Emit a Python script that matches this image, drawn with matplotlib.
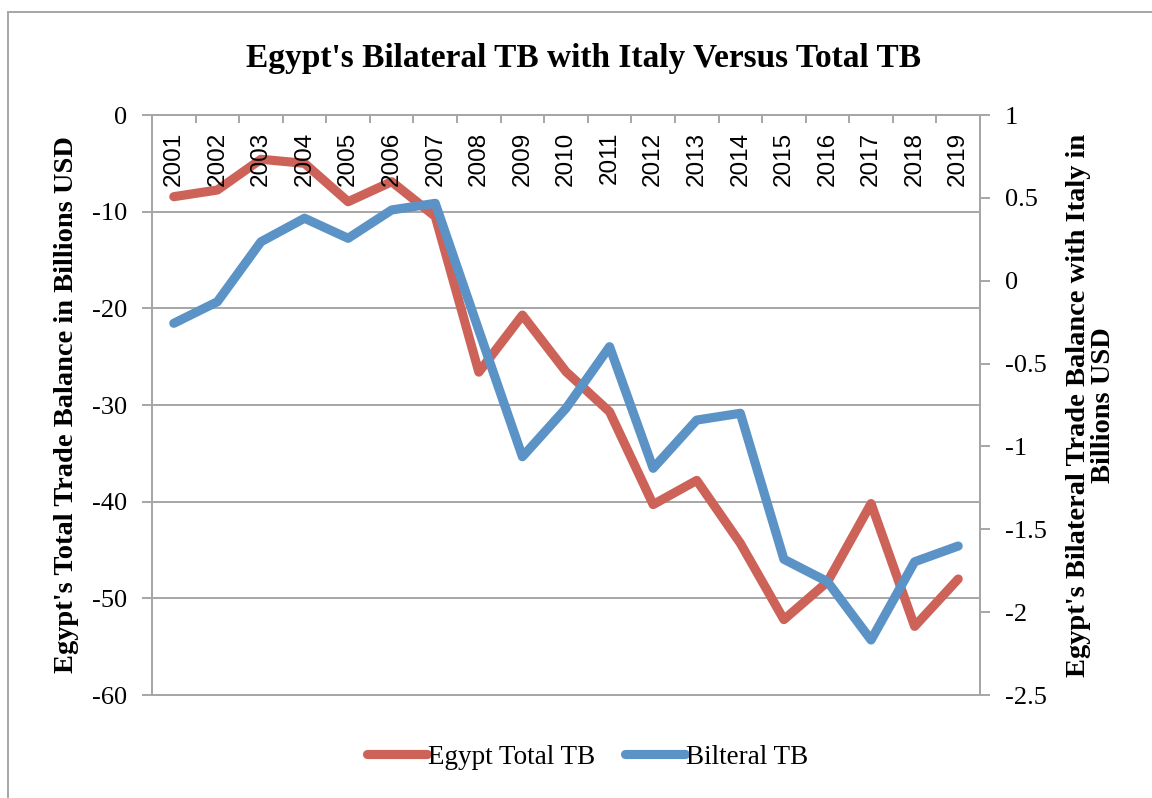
import matplotlib
matplotlib.use('Agg')
import matplotlib.pyplot as plt
from matplotlib.patches import Rectangle
from matplotlib.ticker import FuncFormatter

plt.rcParams['axes.unicode_minus'] = False

# data
years = ['2001', '2002', '2003', '2004', '2005', '2006', '2007', '2008', '2009', '2010',
         '2011', '2012', '2013', '2014', '2015', '2016', '2017', '2018', '2019']
total_tb = [-8.45, -7.76, -4.58, -5.0, -8.97, -6.9, -10.5, -26.6, -20.7, -26.55,
            -30.7, -40.3, -37.8, -44.3, -52.2, -48.3, -40.2, -52.9, -48.0]
bilateral_tb = [-0.257, -0.127, 0.235, 0.377, 0.256, 0.427, 0.467, -0.30, -1.062, -0.770,
                -0.398, -1.132, -0.841, -0.800, -1.681, -1.816, -2.168, -1.696, -1.601]

left_ticks = [0, -10, -20, -30, -40, -50, -60]
right_ticks = [1, 0.5, 0, -0.5, -1, -1.5, -2, -2.5]

RED = '#CD6259'
BLUE = '#5B93C7'
GRID = '#A6A6A6'
SERIF = 'Liberation Serif'
SANS = 'Liberation Sans'

fig = plt.figure(figsize=(11.52, 7.98), dpi=100)
ax = fig.add_axes([152/1152, 1 - 695/798, (980 - 152)/1152, (695 - 115)/798])
ax2 = ax.twinx()

x = list(range(len(years)))

ax.plot(x, total_tb, color=RED, lw=6.6, solid_capstyle='round', solid_joinstyle='round',
        label='Egypt Total TB')
ax2.plot(x, bilateral_tb, color=BLUE, lw=6.6, solid_capstyle='round', solid_joinstyle='round',
         label='Bilteral TB')

ax.set_xlim(-0.5, len(years) - 0.5)
ax.set_ylim(-60, 0)
ax2.set_ylim(-2.5, 1)

ax.set_yticks(left_ticks)
ax2.set_yticks(right_ticks)
fmt = FuncFormatter(lambda v, p: f"{v:g}")
ax.yaxis.set_major_formatter(fmt)
ax2.yaxis.set_major_formatter(fmt)

ax.grid(axis='y', color=GRID, lw=1.4)
ax.set_axisbelow(True)

for a in (ax, ax2):
    for s in a.spines.values():
        s.set_color(GRID)
        s.set_linewidth(1.4)

ax.tick_params(axis='y', length=7, width=1.4, color=GRID, pad=11,
               labelsize=19, labelfontfamily=SERIF)
ax2.tick_params(axis='y', length=7, width=1.4, color=GRID, pad=11,
                labelsize=19, labelfontfamily=SERIF)

# category ticks at the zero line (top), at category boundaries
ax.xaxis.set_ticks_position('top')
ax.set_xticks([i - 0.5 for i in range(len(years) + 1)])
ax.set_xticklabels([])
ax.tick_params(axis='x', direction='in', length=6, width=1.4, color=GRID)
ax2.tick_params(axis='x', top=False, bottom=False, labeltop=False, labelbottom=False)

for i, yr in enumerate(years):
    ax.annotate(yr, xy=(i, 0), xytext=(0, -12), textcoords='offset points',
                rotation=90, ha='center', va='top', fontsize=17.5, family=SANS)

ax.set_ylabel("Egypt's Total Trade Balance in Billions USD", fontsize=20.5,
              fontweight='bold', family=SERIF, labelpad=9)
ax2.set_ylabel("Egypt's Bilateral Trade Balance with Italy in\nBillions USD", fontsize=20.5,
               fontweight='bold', family=SERIF, labelpad=14, rotation=90,
               linespacing=1.0)

fig.text(584/1152, 1 - 59/798, "Egypt's Bilateral TB with Italy Versus Total TB",
         ha='center', va='center', fontsize=24, fontweight='bold', family=SERIF)

h1, l1 = ax.get_legend_handles_labels()
h2, l2 = ax2.get_legend_handles_labels()
fig.legend(h1 + h2, l1 + l2, loc='center', bbox_to_anchor=(588/1152, 1 - 757/798),
           ncol=2, frameon=False, prop={'family': SERIF, 'size': 19.5},
           handlelength=2.2, handletextpad=0.05, columnspacing=1.1)

fig.add_artist(Rectangle((8/1152, -0.1), 1.2, 1.1 - 12/798, transform=fig.transFigure,
                         fill=False, edgecolor=GRID, lw=1.4))

fig.savefig('out.png', dpi=100, facecolor='white')
